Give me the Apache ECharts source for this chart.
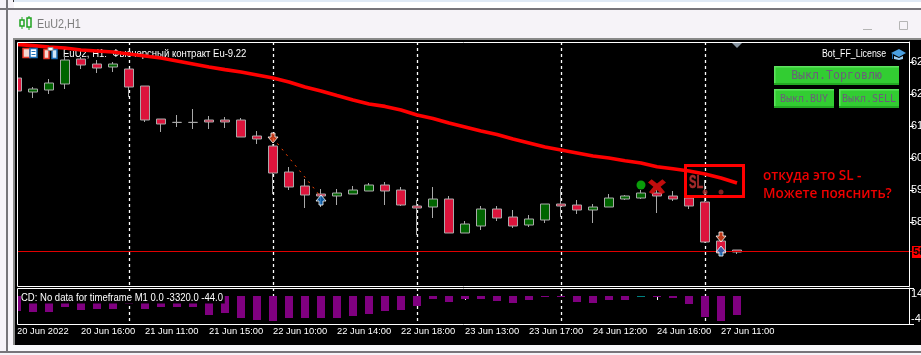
<!DOCTYPE html>
<html>
<head>
<meta charset="utf-8">
<style>
  html, body { margin: 0; padding: 0; background: #fff; overflow: hidden; }
  #chart { width: 921px; height: 355px; }
</style>
<script src="https://cdn.jsdelivr.net/npm/echarts@6/dist/echarts.min.js"></script>
</head>
<body>
<div id="chart"></div>
<script>
// H1 свечи: open, close, low, high
const ohlc = [
  [62400, 62075, 62075, 62400], [62050, 62125, 61900, 62175], [62100, 62275, 62000, 62375],
  [62250, 62850, 62125, 62950], [62875, 62725, 62625, 62925], [62750, 62650, 62525, 62850],
  [62675, 62750, 62550, 62800], [62625, 62175, 61925, 62625], [62200, 61350, 61300, 62200],
  [61375, 61250, 61050, 61375], [61290, 61290, 61175, 61475], [61290, 61290, 61125, 61625],
  [61350, 61300, 61125, 61450], [61350, 61300, 61150, 61425], [61350, 60925, 60925, 61400],
  [60950, 60875, 60750, 61075], [60700, 60025, 59500, 60750], [60050, 59675, 59600, 60175],
  [59700, 59475, 59150, 59875], [59500, 59450, 59175, 59625], [59450, 59525, 59225, 59625],
  [59500, 59600, 59500, 59700], [59575, 59725, 59575, 59775], [59725, 59575, 59225, 59800],
  [59600, 59225, 59200, 59675], [59200, 59150, 58475, 59350], [59175, 59375, 58900, 59675],
  [59375, 58525, 58525, 59450], [58525, 58750, 58525, 58825], [58700, 59125, 58600, 59200],
  [59125, 58900, 58825, 59200], [58925, 58700, 58650, 59100], [58725, 58875, 58675, 58975],
  [58850, 59250, 58775, 59250], [59250, 59200, 58925, 59650], [59225, 59100, 59000, 59350],
  [59100, 59175, 58775, 59250], [59175, 59400, 59175, 59500], [59375, 59450, 59350, 59475],
  [59400, 59525, 59375, 59600], [59525, 59450, 59025, 59600], [59450, 59375, 59325, 59575],
  [59400, 59200, 59125, 59400], [59300, 58300, 58275, 59850], [58325, 58025, 57950, 58325],
  [58100, 58050, 58000, 58100]
]
// красная скользящая
const maValues = [
  63240, 63210, 63175, 63150, 63100, 63075, 63050, 63000, 62950, 62900, 62825, 62750,
  62675, 62610, 62550, 62475, 62400, 62300, 62175, 62075, 61960, 61850, 61750, 61690,
  61600, 61475, 61390, 61275, 61175, 61075, 60990, 60875, 60775, 60675, 60600, 60525,
  60450, 60400, 60330, 60275, 60180, 60130, 60075, 60000, 59900, 59775
]
// нижнее окно, гистограмма
const histValues = [
  -2625, -2800, -2800, -1925, -2450, -2275, -2275, -1350, -2275, -1925, -1925, -1925,
  -3325, -2975, -3850, -4200, -4375, -3850, -3850, -3850, -3850, -3500, -3150, -2625,
  -2450, -1750, -525, -1050, -525, -525, -875, -1225, -700, -175, -175, -1050,
  -1225, -700, -700, -175, -175, -350, -1400, -3675, -4375, -3325
]
const tealBars = [39]
const tickLabels = [
  '20 Jun 2022', '20 Jun 16:00', '21 Jun 11:00', '21 Jun 15:00', '22 Jun 10:00', '22 Jun 14:00',
  '22 Jun 18:00', '23 Jun 13:00', '23 Jun 17:00', '24 Jun 12:00', '24 Jun 16:00', '27 Jun 11:00'
]
const priceTicks = [62800, 62000, 61200, 60400, 59600, 58800]
const histTicks = [-4900, 1400]
const lastPrice = 58075
// сделки и значки советника: [бар, цена]
const sellArrows = [[16, 60900], [44, 58425]]
const buyArrows = [[19, 59350], [44, 58075]]
const tradeLine = [[16, 60900], [19, 59425]]
const greenDots = [[39, 59725]]
const crossMarks = [[40, 59680]]
const slDots = [[43, 59550], [44, 59550]]

const barCount = 57
const categories = []
for (let i = 0; i < barCount; i++) {
  categories.push(i % 4 === 0 && tickLabels[i / 4] ? tickLabels[i / 4] : '')
}

const font = '"Liberation Sans", Arial, sans-serif'
const labelTick = (i) => i % 4 === 0 && i <= 44
const separator = (i) => (i + 2) % 9 === 0 && i <= 43

const rect = (x, y, w, h, fill, z, stroke, lw) => ({
  type: 'rect', silent: true, z: z === undefined ? -5 : z,
  shape: { x, y, width: w, height: h },
  style: { fill: fill || 'transparent', stroke: stroke || null, lineWidth: lw || 0 }
})
const label = (x, y, text, color, size, z, extra, scaleX) => ({
  type: 'text', silent: true, z: z === undefined ? 1 : z, x, y, scaleX: scaleX || 1,
  style: Object.assign({ text, fill: color, font: size + 'px ' + font, verticalAlign: 'middle' }, extra || {})
})
const button = (x, y, w, h, text, size) => [
  rect(x, y, w, h, '#32cd32', 8),
  rect(x, y, w, 1.5, '#5fe35f', 8),
  rect(x, y, 1.5, h, '#5fe35f', 8),
  rect(x, y + h - 2, w, 2, '#24a824', 8),
  label(x + w / 2, y + h / 2 + 0.5, text, '#6b5f7a', size, 9, {
    align: 'center', font: size + 'px "DejaVu Sans Mono", monospace'
  })
]

const chrome = [
  rect(0, 0, 921, 355, '#f6f3f8', -20),
  rect(14, 0, 907, 2, '#dfe9f5', -19),
  rect(13, 0, 1, 2, '#333333', -19),
  rect(14, 2, 907, 6, '#ffffff', -19),
  rect(0, 8, 921, 2, '#77757a', -19),
  rect(6, 0, 2, 355, '#77757a', -19),
  rect(13, 38, 908, 2, '#8a8a8a', -18),
  rect(8, 345, 913, 6, '#f8f8fa', -18),
  rect(0, 351, 921, 2, '#77757a', -18),
  rect(0, 353, 921, 2, '#f6f3f8', -18),
  rect(15, 40, 906, 305, '#000000', -10),
  // левый край: первая свеча срезается рамкой
  rect(8, 40, 5, 305, '#f6f3f8', 5),
  rect(13, 38, 2, 307, '#8a8a8a', 5),
  rect(15, 40, 2.5, 305, '#000000', 5),
  // окно графика
  rect(17.5, 42.5, 892, 244, null, 6, '#ffffff', 1),
  rect(17.5, 288.5, 892, 36, null, 6, '#ffffff', 1),
  // заголовок окна
  rect(20, 20, 4, 6, 'transparent', 0, '#1fa31f', 1.5),
  rect(27, 18, 4, 9, 'transparent', 0, '#1fa31f', 1.5),
  rect(21.5, 17, 1, 3, '#1fa31f', 0), rect(21.5, 26, 1, 3, '#1fa31f', 0),
  rect(28.5, 16, 1, 2, '#1fa31f', 0), rect(28.5, 27, 1, 3, '#1fa31f', 0),
  label(37, 24, 'EuU2,H1', '#7c7c7c', 13, 0, null, 0.83),
  rect(863, 29, 9, 1, '#b5b5b5', 0),
  rect(899.5, 21.5, 8, 8, 'transparent', 0, '#b5b5b5', 1),
  // значки слева вверху
  rect(23, 48.5, 7, 9, '#f7d8d0', 7, '#e8392a', 1.5),
  rect(30, 48.5, 7, 9, '#ffffff', 7, '#1b6fb8', 1.5),
  rect(31.5, 51, 4, 1, '#1b6fb8', 7), rect(31.5, 54, 4, 1, '#1b6fb8', 7),
  rect(44, 49.5, 5, 9, '#f7d8d0', 7, '#e8392a', 1.5),
  rect(52, 49.5, 5, 9, '#cfe6f7', 7, '#1b6fb8', 1.5),
  rect(48, 47.5, 5, 3, '#ffffff', 7, '#8e8e8e', 1),
  label(63, 54, 'EuU2, H1:  Фьючерсный контракт Eu-9.22', '#ffffff', 11, 1, null, 0.867),
  label(822, 54, 'Bot_FF_License', '#ffffff', 11, 7, null, 0.8),
  // шапочка
  { type: 'polygon', silent: true, z: 7, shape: { points: [[891, 53], [899, 49], [906, 53], [899, 57]] }, style: { fill: '#4a9fe0' } },
  { type: 'polygon', silent: true, z: 7, shape: { points: [[894, 56], [899, 58], [903, 56], [903, 59], [899, 60], [894, 59]] }, style: { fill: '#9ccdf0' } },
  rect(892, 54, 1, 5, '#1b6fb8', 7),
  // треугольник сверху
  { type: 'polygon', silent: true, z: 7, shape: { points: [[732, 43], [742, 43], [737, 48]] }, style: { fill: '#8794a0' } },
  ...button(774, 66, 125, 19, 'Выкл.Торговлю', 11.6),
  ...button(774, 89, 60, 19, 'Выкл.BUY', 10),
  ...button(839, 89, 60, 19, 'Выкл.SELL', 10),
  // подпись нижнего окна
  label(21, 298, 'CD: No data for timeframe M1 0.0 -3320.0 -44.0', '#ffffff', 11, 5, {
    backgroundColor: '#000000', padding: [0, 2, 0, 0]
  }, 0.865),
  // цена
  rect(912, 246, 9, 12, '#ff0000', 7),
  label(913, 252, '58075', '#000000', 11, 8, { font: 'bold 11px ' + font }),
  // пометка на скриншоте
  rect(685.5, 165.5, 58, 31, null, 9, '#ff0000', 3),
  label(689, 183, 'SL', '#a52a2a', 18, 3, { font: 'bold 18px ' + font, stroke: '#a52a2a', lineWidth: 0.5 }, 0.62),
  label(763, 176, 'откуда это SL -', '#ee0000', 13.6, 9, { font: '600 13.6px "Open Sans", sans-serif' }),
  label(763, 194, 'Можете пояснить?', '#ee0000', 13.6, 9, { font: '600 13.6px "Open Sans", sans-serif' })
]

const arrowDown = 'path://M3 0H7V4H10L5 10L0 4H3Z'
const arrowUp = 'path://M5 0L10 6H7V10H3V6H0Z'
const crossPath = 'path://M0 3L4 0L10 4L16 0L20 3L14 7L19 12L15 14L10 10L5 14L1 12L6 7Z'
const scatterSet = (data, symbol, size, color, extra) => ({
  type: 'scatter', data, symbol, symbolSize: size, z: 6, silent: true,
  itemStyle: Object.assign({ color }, extra || {})
})
const priceLabel = (v) => String(v)
const separatorStyle = { color: '#ffffff', type: [3, 3], width: 1.3 }

const chart = echarts.init(document.getElementById('chart'), null, { renderer: 'canvas' })
chart.setOption({
  animation: false,
  backgroundColor: 'transparent',
  grid: [
    { left: 17, top: 42, width: 896, height: 244, outerBoundsMode: 'none' },
    { left: 17, top: 288, width: 896, height: 36, outerBoundsMode: 'none' }
  ],
  xAxis: [
    {
      type: 'category', gridIndex: 0, data: categories, boundaryGap: false,
      axisLine: { show: false }, axisTick: { show: false }, axisLabel: { show: false },
      splitLine: { show: true, interval: separator, lineStyle: separatorStyle }
    },
    {
      type: 'category', gridIndex: 1, data: categories, boundaryGap: false,
      axisLine: { show: false },
      axisTick: { show: true, interval: labelTick, length: 4, lineStyle: { color: '#ffffff' } },
      axisLabel: {
        show: true, interval: labelTick, align: 'left', margin: 3, color: '#ffffff',
        fontFamily: font, fontSize: 9.4, hideOverlap: false
      },
      splitLine: { show: true, interval: separator, lineStyle: separatorStyle }
    }
  ],
  yAxis: [
    {
      type: 'value', gridIndex: 0, position: 'right', offset: -4, min: 57200, max: 63300,
      splitLine: { show: false },
      axisLine: { show: true, lineStyle: { color: '#ffffff' } },
      axisTick: { show: true, length: 5, customValues: priceTicks, lineStyle: { color: '#ffffff' } },
      axisLabel: {
        show: true, customValues: priceTicks, formatter: priceLabel, margin: 2,
        color: '#ffffff', fontFamily: font, fontSize: 11
      }
    },
    {
      type: 'value', gridIndex: 1, position: 'right', offset: -4, min: -4900, max: 1400,
      splitLine: { show: false },
      axisLine: { show: true, lineStyle: { color: '#ffffff' } },
      axisTick: { show: true, length: 5, customValues: histTicks, lineStyle: { color: '#ffffff' } },
      axisLabel: {
        show: true, customValues: histTicks, formatter: priceLabel, margin: 2,
        color: '#ffffff', fontFamily: font, fontSize: 11,
        verticalAlignMinLabel: 'bottom', verticalAlignMaxLabel: 'top'
      }
    }
  ],
  series: [
    {
      type: 'candlestick', xAxisIndex: 0, yAxisIndex: 0, data: ohlc, barWidth: 10, z: 2, silent: true,
      itemStyle: {
        color: '#006400', color0: '#dc143c',
        borderColor: '#a9a9a9', borderColor0: '#a9a9a9', borderColorDoji: '#a9a9a9', borderWidth: 1
      },
      markLine: {
        silent: true, symbol: 'none', label: { show: false }, animation: false,
        lineStyle: { color: '#e00000', type: 'solid', width: 1 },
        data: [{ yAxis: lastPrice }]
      }
    },
    {
      type: 'line', xAxisIndex: 0, yAxisIndex: 0, data: maValues, symbol: 'none', z: 4, silent: true,
      lineStyle: { color: '#ff0000', width: 3.6 }
    },
    {
      type: 'line', xAxisIndex: 0, yAxisIndex: 0, data: tradeLine, symbol: 'none', z: 3, silent: true,
      lineStyle: { color: '#ff4500', width: 1, type: [2, 5] }
    },
    scatterSet(sellArrows, arrowDown, 10, '#e8461e', { borderColor: '#ffffff', borderWidth: 1 }),
    scatterSet(buyArrows, arrowUp, 10, '#0f6cc0', { borderColor: '#ffffff', borderWidth: 1 }),
    scatterSet(greenDots, 'circle', 9, '#0cc40c'),
    scatterSet(crossMarks, crossPath, [18, 15], '#f01010'),
    scatterSet(slDots, 'circle', 5, '#a52a2a'),
    {
      type: 'bar', xAxisIndex: 1, yAxisIndex: 1, barWidth: 8, z: 2, silent: true,
      data: histValues.map((v, i) => ({
        value: v,
        itemStyle: { color: tealBars.includes(i) ? '#008080' : '#800080' }
      }))
    }
  ],
  graphic: { elements: chrome }
})
</script>
</body>
</html>
